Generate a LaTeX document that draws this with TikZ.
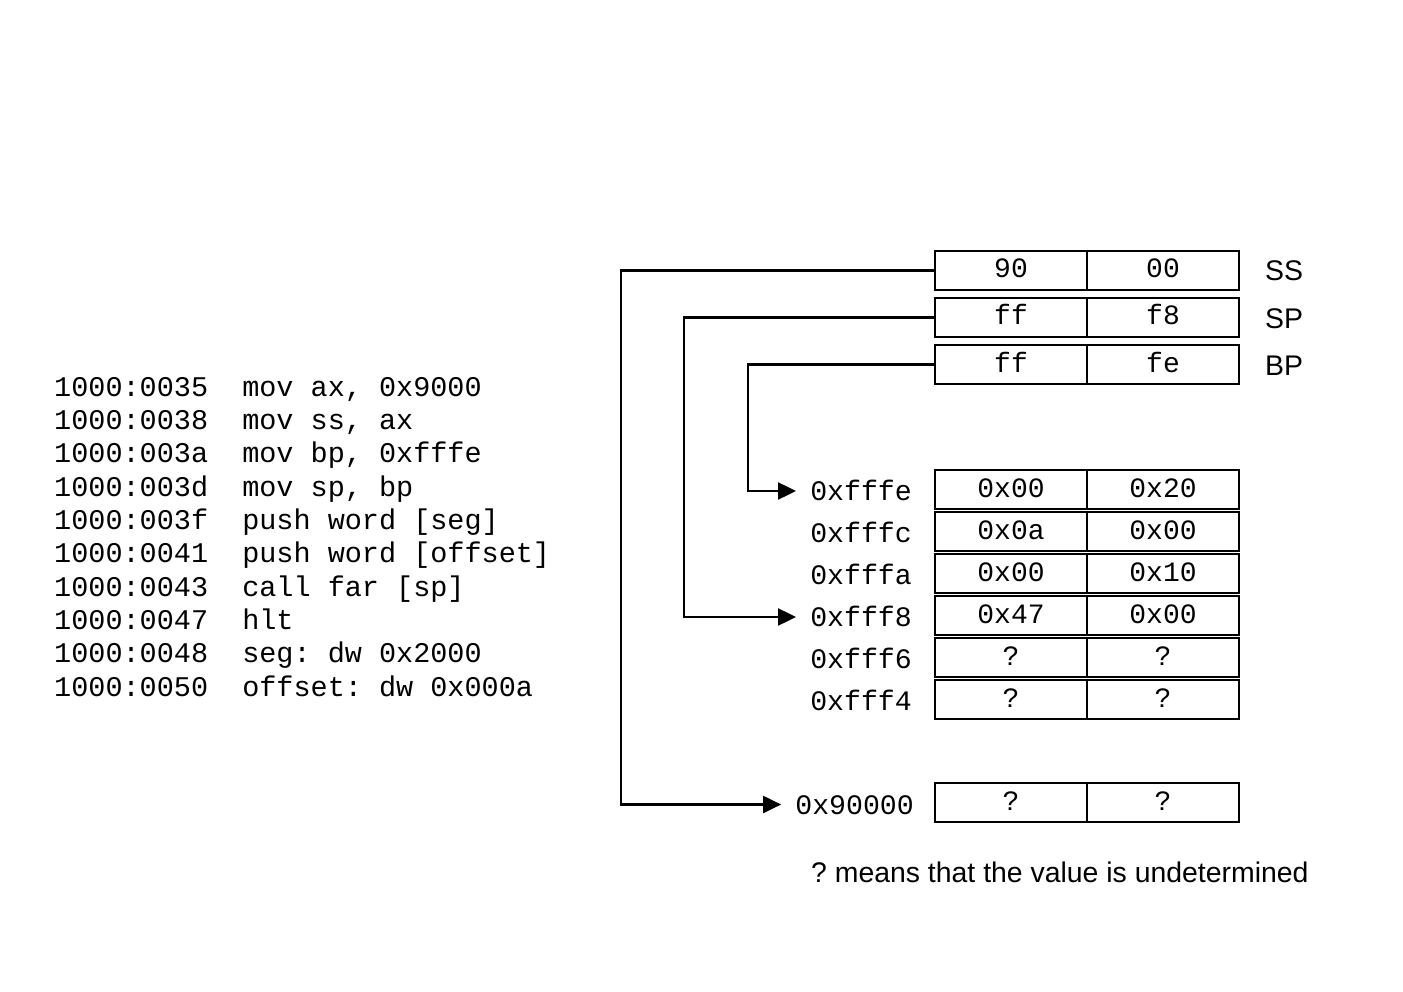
\documentclass[tikz,border=0pt]{standalone}
\usepackage{fontspec}
\setmainfont{Liberation Sans}
\newfontfamily\codefont{Liberation Mono}
\usetikzlibrary{arrows.meta}
\frenchspacing
\begin{document}
\begin{tikzpicture}[x=1pt,y=-1pt,
  codeline/.style={anchor=base west,inner sep=0pt,font=\codefont\fontsize{28.5}{33}\selectfont},
  cell/.style={draw,line width=1.4pt,minimum width=152pt,minimum height=39pt,inner sep=0pt,
    text height=19pt,text depth=4pt,font=\codefont\fontsize{28}{33}\selectfont},
  addr/.style={anchor=east,inner sep=0pt,text height=19pt,text depth=0pt,
    font=\codefont\fontsize{28.2}{33}\selectfont},
  reglabel/.style={anchor=west,inner sep=0pt,text height=20pt,text depth=0pt,
    font=\fontsize{28.4}{33}\selectfont},
  conn/.style={line width=2.1pt,-{Triangle[length=18pt,width=17pt]},shorten >=14pt}]
\useasboundingbox (0,0) rectangle (1403,992);

% program listing
\node[codeline] (c1)  at (54,396)    {1000:0035\ \ mov ax, 0x9000};
\node[codeline] (c2)  at (54,429.3)  {1000:0038\ \ mov ss, ax};
\node[codeline] (c3)  at (54,462.7)  {1000:003a\ \ mov bp, 0xfffe};
\node[codeline] (c4)  at (54,496)    {1000:003d\ \ mov sp, bp};
\node[codeline] (c5)  at (54,529.3)  {1000:003f\ \ push word [seg]};
\node[codeline] (c6)  at (54,562.7)  {1000:0041\ \ push word [offset]};
\node[codeline] (c7)  at (54,596)    {1000:0043\ \ call far [sp]};
\node[codeline] (c8)  at (54,629.3)  {1000:0047\ \ hlt};
\node[codeline] (c9)  at (54,662.7)  {1000:0048\ \ seg: dw 0x2000};
\node[codeline] (c10) at (54,696)    {1000:0050\ \ offset: dw 0x000a};

% registers
\node[cell] (ss0) at (1011,270.5) {90};
\node[cell] (ss1) at (1163,270.5) {00};
\node[cell] (sp0) at (1011,317.5) {ff};
\node[cell] (sp1) at (1163,317.5) {f8};
\node[cell] (bp0) at (1011,364.5) {ff};
\node[cell] (bp1) at (1163,364.5) {fe};
\node[reglabel] (ssl) at (1265,271) {SS};
\node[reglabel] (spl) at (1265,318) {SP};
\node[reglabel] (bpl) at (1265,365) {BP};

% stack memory
\node[cell] (m1a) at (1011,489.5) {0x00};
\node[cell] (m1b) at (1163,489.5) {0x20};
\node[cell] (m2a) at (1011,531.5) {0x0a};
\node[cell] (m2b) at (1163,531.5) {0x00};
\node[cell] (m3a) at (1011,573.5) {0x00};
\node[cell] (m3b) at (1163,573.5) {0x10};
\node[cell] (m4a) at (1011,615.5) {0x47};
\node[cell] (m4b) at (1163,615.5) {0x00};
\node[cell] (m5a) at (1011,657.5) {?};
\node[cell] (m5b) at (1163,657.5) {?};
\node[cell] (m6a) at (1011,699.5) {?};
\node[cell] (m6b) at (1163,699.5) {?};
\node[addr] (afffe) at (912,491) {0xfffe};
\node[addr] (afffc) at (912,533) {0xfffc};
\node[addr] (afffa) at (912,575) {0xfffa};
\node[addr] (afff8) at (912,617) {0xfff8};
\node[addr] (afff6) at (912,659) {0xfff6};
\node[addr] (afff4) at (912,701) {0xfff4};

% segment base
\node[cell] (m9a) at (1011,802.5) {?};
\node[cell] (m9b) at (1163,802.5) {?};
\node[addr] (a90000) at (914,804.5) {0x90000};

% register pointers
\coordinate (ssbend) at (621,270.5);
\coordinate (spbend) at (684,317.5);
\coordinate (bpbend) at (748,364.5);
\draw[conn] (ss0.west) -- (ssbend) |- (a90000.west);
\draw[conn] (sp0.west) -- (spbend) |- (afff8.west);
\draw[conn] (bp0.west) -- (bpbend) |- (afffe.west);

\node[reglabel] (note) at (811,872) {? means that the value is undetermined};
\end{tikzpicture}
\end{document}
